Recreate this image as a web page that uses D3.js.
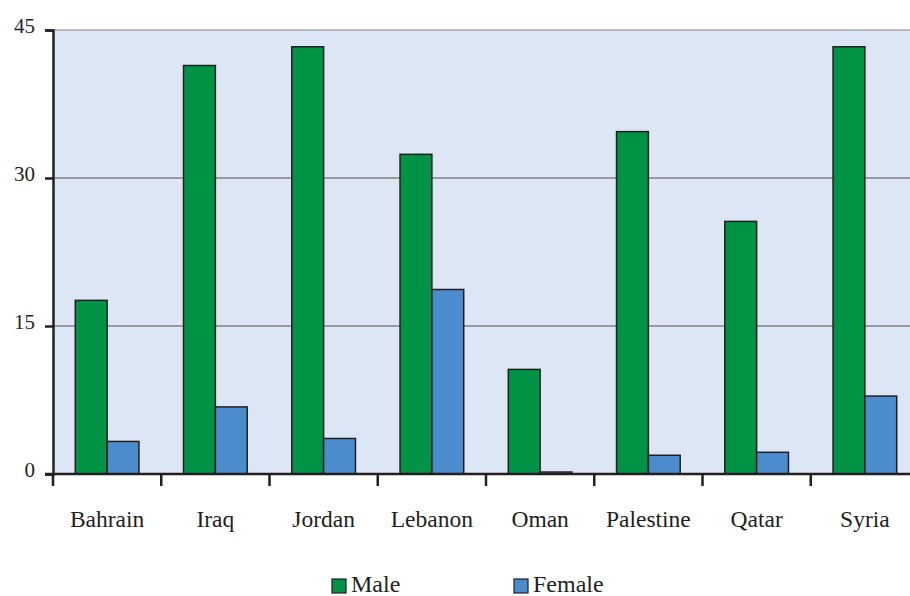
<!DOCTYPE html>
<html>
<head>
<meta charset="utf-8">
<script src="https://cdn.jsdelivr.net/npm/d3@7"></script>
<style>
  body { margin: 0; background: #fff; overflow: hidden; }
  svg { display: block; }
  svg text { font-family: "Liberation Serif", "Times New Roman", serif; fill: #231f20; }
</style>
</head>
<body>
<script>
// Data
const countries = ['Bahrain', 'Iraq', 'Jordan', 'Lebanon', 'Oman', 'Palestine', 'Qatar', 'Syria'];
const male   = [17.6, 41.4, 43.3, 32.4, 10.6, 34.7, 25.6, 43.3];
const female = [3.3, 6.8, 3.6, 18.7, 0.2, 1.9, 2.2, 7.9];
const yTicks = [0, 15, 30, 45];
const seriesNames = ['Male', 'Female'];
const seriesColors = ['#009245', '#4a8ccc'];

// Layout
const width = 910;
const height = 596;
const plot = {left: 53, right: 919, top: 30, bottom: 474};

const svg = d3.select('body')
  .append('svg')
  .attr('width', width)
  .attr('height', height);

// Scales
const xScale = d3.scaleBand()
  .domain(countries)
  .range([plot.left, plot.right]);

const yScale = d3.scaleLinear()
  .domain([0, 45])
  .range([plot.bottom, plot.top]);

const inner = d3.scaleBand()
  .domain(seriesNames)
  .range([0, xScale.bandwidth()])
  .paddingInner(0)
  .paddingOuter(0.7);

// Plot background
svg.append('rect')
  .attr('x', plot.left)
  .attr('y', plot.top)
  .attr('width', plot.right - plot.left)
  .attr('height', plot.bottom - plot.top)
  .attr('fill', '#dce6f4');

// Gridlines
svg.append('g')
  .selectAll('line')
  .data(yTicks.filter(d => d > 0))
  .join('line')
  .attr('x1', plot.left)
  .attr('x2', plot.right)
  .attr('y1', d => yScale(d))
  .attr('y2', d => yScale(d))
  .attr('stroke', d => d === 45 ? '#a7a9ac' : '#808285')
  .attr('stroke-width', 1.5);

// Bars
const rows = countries.map((c, i) => ({country: c, values: [male[i], female[i]]}));

const groups = svg.append('g')
  .selectAll('g')
  .data(rows)
  .join('g')
  .attr('transform', d => 'translate(' + xScale(d.country) + ',0)');

groups.selectAll('rect')
  .data(d => d.values.map((v, j) => ({name: seriesNames[j], value: v, color: seriesColors[j]})))
  .join('rect')
  .attr('x', d => inner(d.name))
  .attr('width', inner.bandwidth())
  .attr('y', d => yScale(d.value))
  .attr('height', d => yScale(0) - yScale(d.value))
  .attr('fill', d => d.color)
  .attr('stroke', '#231f20')
  .attr('stroke-width', 1.5);

// Y axis
const yAxis = d3.axisLeft(yScale)
  .tickValues(yTicks)
  .tickSize(8)
  .tickPadding(10);

const gy = svg.append('g')
  .attr('transform', 'translate(' + plot.left + ',0)')
  .call(yAxis);
gy.select('.domain').attr('stroke', '#231f20').attr('stroke-width', 2.5);
gy.selectAll('.tick line').attr('stroke', '#231f20').attr('stroke-width', 2.5);
gy.selectAll('.tick text')
  .attr('dy', '0.1em')
  .style('font-size', '21px')
  .style('font-family', '"Liberation Serif", serif')
  .attr('fill', '#231f20');

// X axis
const xAxis = d3.axisBottom(xScale)
  .tickSize(0)
  .tickPadding(0);

const gx = svg.append('g')
  .attr('transform', 'translate(0,' + plot.bottom + ')')
  .call(xAxis);
gx.select('.domain')
  .attr('d', 'M' + (plot.left - 8) + ',0H' + plot.right)
  .attr('stroke', '#231f20')
  .attr('stroke-width', 2.5);
gx.selectAll('.tick text')
  .attr('y', 53)
  .attr('dy', 0)
  .style('font-size', '23.5px')
  .style('font-family', '"Liberation Serif", serif')
  .attr('fill', '#231f20');

// Category separator ticks
gx.append('g')
  .selectAll('line')
  .data(countries)
  .join('line')
  .attr('x1', d => xScale(d))
  .attr('x2', d => xScale(d))
  .attr('y1', 0)
  .attr('y2', 12)
  .attr('stroke', '#231f20')
  .attr('stroke-width', 2.5);

// Legend
const legendX = [332, 514];
const legend = svg.append('g')
  .selectAll('g')
  .data(seriesNames)
  .join('g')
  .attr('transform', (d, i) => 'translate(' + legendX[i] + ',579)');

legend.append('rect')
  .attr('width', 14)
  .attr('height', 14)
  .attr('fill', (d, i) => seriesColors[i])
  .attr('stroke', '#231f20')
  .attr('stroke-width', 1.2);

legend.append('text')
  .attr('x', 19)
  .attr('y', 13)
  .style('font-size', '24px')
  .text(d => d);
</script>
</body>
</html>
